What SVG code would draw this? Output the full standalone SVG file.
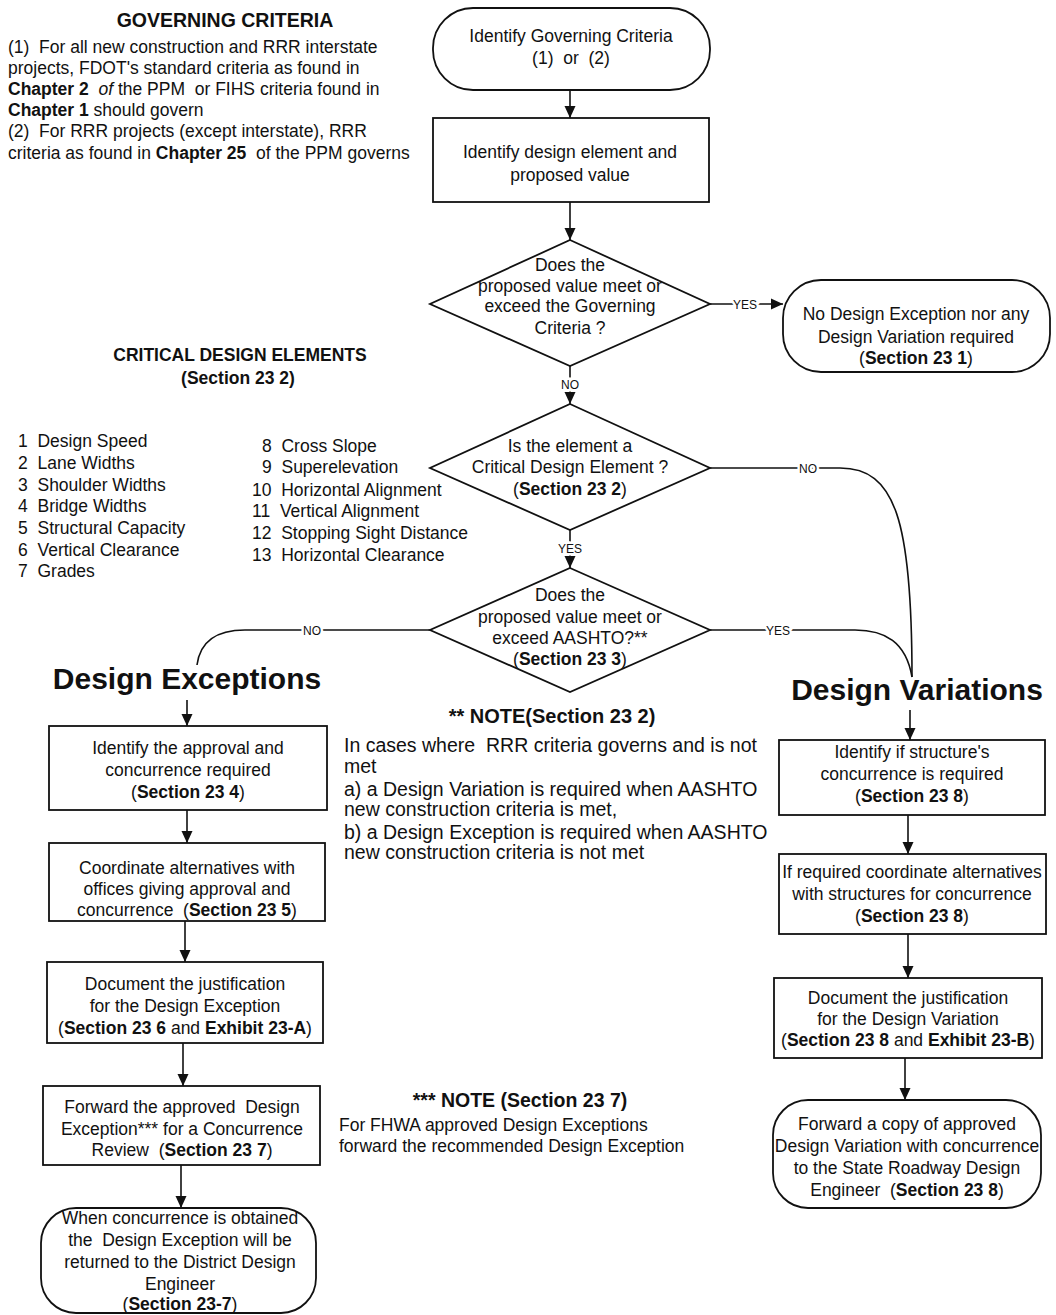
<svg xmlns="http://www.w3.org/2000/svg" width="1056" height="1315" viewBox="0 0 1056 1315">
<style>
text{font-family:"Liberation Sans",Arial,sans-serif;font-size:17.5px;fill:#111;white-space:pre}
.c{text-anchor:middle}
.b{font-weight:bold}
.i{font-style:italic}
.t19{font-size:19.5px}
.h{font-size:30px;font-weight:bold}
.lbl{font-size:12px;text-anchor:middle;stroke:#fff;stroke-width:5px;paint-order:stroke;fill:#111}
.box{fill:#fff;stroke:#111;stroke-width:1.8}
.ln{fill:none;stroke:#111;stroke-width:1.6}
</style>
<defs>
<marker id="ah" viewBox="0 0 12 12" refX="12" refY="6" markerWidth="12" markerHeight="12" markerUnits="userSpaceOnUse" orient="auto">
<path d="M0,0.5 L12,6 L0,11.5 z" fill="#111"/>
</marker>
</defs>
<rect width="1056" height="1315" fill="#fff"/>

<g id="governing-criteria">
<text class="c b t19" x="225" y="27">GOVERNING CRITERIA</text>
<text x="8" y="53">(1)  For all new construction and RRR interstate</text>
<text x="8" y="74">projects, FDOT's standard criteria as found in</text>
<text x="8" y="95"><tspan class="b">Chapter 2</tspan>  <tspan class="i">of</tspan> the PPM  or FIHS criteria found in</text>
<text x="8" y="116"><tspan class="b">Chapter 1</tspan> should govern</text>
<text x="8" y="137">(2)  For RRR projects (except interstate), RRR</text>
<text x="8" y="159">criteria as found in <tspan class="b">Chapter 25</tspan>  of the PPM governs</text>
</g>

<g id="critical-elements">
<text class="c b" x="240" y="361">CRITICAL DESIGN ELEMENTS</text>
<text class="c b" x="238" y="384">(Section 23 2)</text>
<text x="18" y="447">1  Design Speed</text>
<text x="18" y="469">2  Lane Widths</text>
<text x="18" y="491">3  Shoulder Widths</text>
<text x="18" y="512">4  Bridge Widths</text>
<text x="18" y="534">5  Structural Capacity</text>
<text x="18" y="556">6  Vertical Clearance</text>
<text x="18" y="577">7  Grades</text>
<text x="262" y="452">8  Cross Slope</text>
<text x="262" y="473">9  Superelevation</text>
<text x="252" y="496">10  Horizontal Alignment</text>
<text x="252" y="517">11  Vertical Alignment</text>
<text x="252" y="539">12  Stopping Sight Distance</text>
<text x="252" y="561">13  Horizontal Clearance</text>
</g>

<g id="connectors">
<line class="ln" x1="570" y1="90" x2="570" y2="118" marker-end="url(#ah)"/>
<line class="ln" x1="570" y1="202" x2="570" y2="240" marker-end="url(#ah)"/>
<line class="ln" x1="710" y1="304" x2="783" y2="304" marker-end="url(#ah)"/>
<text class="lbl" x="745" y="309">YES</text>
<line class="ln" x1="570" y1="366" x2="570" y2="404" marker-end="url(#ah)"/>
<text class="lbl" x="570" y="389">NO</text>
<path class="ln" d="M710,468 H840 C895,468 912,520 912,677"/>
<text class="lbl" x="808" y="473">NO</text>
<line class="ln" x1="570" y1="530" x2="570" y2="568" marker-end="url(#ah)"/>
<text class="lbl" x="570" y="553">YES</text>
<path class="ln" d="M710,630 H855 C885,630 906,642 912,677"/>
<text class="lbl" x="778" y="635">YES</text>
<path class="ln" d="M430,630 H245 C215,630 200,642 197,665"/>
<text class="lbl" x="312" y="635">NO</text>
<line class="ln" x1="187" y1="700" x2="187" y2="726" marker-end="url(#ah)"/>
<line class="ln" x1="187" y1="810" x2="187" y2="843" marker-end="url(#ah)"/>
<line class="ln" x1="185" y1="921" x2="185" y2="962" marker-end="url(#ah)"/>
<line class="ln" x1="183" y1="1043" x2="183" y2="1086" marker-end="url(#ah)"/>
<line class="ln" x1="181" y1="1165" x2="181" y2="1208" marker-end="url(#ah)"/>
<line class="ln" x1="910" y1="710" x2="910" y2="740" marker-end="url(#ah)"/>
<line class="ln" x1="908" y1="815" x2="908" y2="854" marker-end="url(#ah)"/>
<line class="ln" x1="908" y1="934" x2="908" y2="978" marker-end="url(#ah)"/>
<line class="ln" x1="905" y1="1058" x2="905" y2="1100" marker-end="url(#ah)"/>
</g>

<g id="n-identify-criteria">
<rect class="box" x="433" y="8" width="277" height="82" rx="40" ry="40"/>
<text class="c" x="571" y="42">Identify Governing Criteria</text>
<text class="c" x="571" y="64">(1)  or  (2)</text>
</g>

<g id="n-identify-element">
<rect class="box" x="433" y="118" width="276" height="84"/>
<text class="c" x="570" y="158">Identify design element and</text>
<text class="c" x="570" y="181">proposed value</text>
</g>

<g id="n-decision-governing">
<polygon class="box" points="570,240 710,304 570,366 430,304"/>
<text class="c" x="570" y="271">Does the</text>
<text class="c" x="570" y="292">proposed value meet or</text>
<text class="c" x="570" y="312">exceed the Governing</text>
<text class="c" x="570" y="334">Criteria ?</text>
</g>

<g id="n-no-exception">
<rect class="box" x="783" y="280" width="267" height="92" rx="38" ry="38"/>
<text class="c" x="916" y="320">No Design Exception nor any</text>
<text class="c" x="916" y="343">Design Variation required</text>
<text class="c" x="916" y="364">(<tspan class="b">Section 23 1</tspan>)</text>
</g>

<g id="n-decision-critical">
<polygon class="box" points="570,404 710,468 570,530 430,468"/>
<text class="c" x="570" y="452">Is the element a</text>
<text class="c" x="570" y="473">Critical Design Element ?</text>
<text class="c" x="570" y="495">(<tspan class="b">Section 23 2</tspan>)</text>
</g>

<g id="n-decision-aashto">
<polygon class="box" points="570,568 710,630 570,692 430,630"/>
<text class="c" x="570" y="601">Does the</text>
<text class="c" x="570" y="623">proposed value meet or</text>
<text class="c" x="570" y="644">exceed AASHTO?**</text>
<text class="c" x="570" y="665">(<tspan class="b">Section 23 3</tspan>)</text>
</g>

<g id="h-exceptions">
<text class="h c" x="187" y="689">Design Exceptions</text>
</g>
<g id="h-variations">
<text class="h c" x="917" y="700">Design Variations</text>
</g>

<g id="n-e1">
<rect class="box" x="49" y="726" width="278" height="84"/>
<text class="c" x="188" y="754">Identify the approval and</text>
<text class="c" x="188" y="776">concurrence required</text>
<text class="c" x="188" y="798">(<tspan class="b">Section 23 4</tspan>)</text>
</g>
<g id="n-e2">
<rect class="box" x="49" y="843" width="276" height="78"/>
<text class="c" x="187" y="874">Coordinate alternatives with</text>
<text class="c" x="187" y="895">offices giving approval and</text>
<text class="c" x="187" y="916">concurrence  (<tspan class="b">Section 23 5</tspan>)</text>
</g>
<g id="n-e3">
<rect class="box" x="47" y="962" width="276" height="81"/>
<text class="c" x="185" y="990">Document the justification</text>
<text class="c" x="185" y="1012">for the Design Exception</text>
<text class="c" x="185" y="1034">(<tspan class="b">Section 23 6</tspan> and <tspan class="b">Exhibit 23-A</tspan>)</text>
</g>
<g id="n-e4">
<rect class="box" x="43" y="1086" width="277" height="79"/>
<text class="c" x="182" y="1113">Forward the approved  Design</text>
<text class="c" x="182" y="1135">Exception*** for a Concurrence</text>
<text class="c" x="182" y="1156">Review  (<tspan class="b">Section 23 7</tspan>)</text>
</g>
<g id="n-e5">
<rect class="box" x="41" y="1208" width="275" height="105" rx="35" ry="35"/>
<text class="c" x="180" y="1224">When concurrence is obtained</text>
<text class="c" x="180" y="1246">the  Design Exception will be</text>
<text class="c" x="180" y="1268">returned to the District Design</text>
<text class="c" x="180" y="1290">Engineer</text>
<text class="c" x="180" y="1310">(<tspan class="b">Section 23-7</tspan>)</text>
</g>

<g id="n-v1">
<rect class="box" x="779" y="740" width="266" height="75"/>
<text class="c" x="912" y="758">Identify if structure's</text>
<text class="c" x="912" y="780">concurrence is required</text>
<text class="c" x="912" y="802">(<tspan class="b">Section 23 8</tspan>)</text>
</g>
<g id="n-v2">
<rect class="box" x="779" y="854" width="267" height="80"/>
<text class="c" x="912" y="878">If required coordinate alternatives</text>
<text class="c" x="912" y="900">with structures for concurrence</text>
<text class="c" x="912" y="922">(<tspan class="b">Section 23 8</tspan>)</text>
</g>
<g id="n-v3">
<rect class="box" x="774" y="978" width="268" height="80"/>
<text class="c" x="908" y="1004">Document the justification</text>
<text class="c" x="908" y="1025">for the Design Variation</text>
<text class="c" x="908" y="1046">(<tspan class="b">Section 23 8</tspan> and <tspan class="b">Exhibit 23-B</tspan>)</text>
</g>
<g id="n-v4">
<rect class="box" x="773" y="1100" width="268" height="108" rx="35" ry="35"/>
<text class="c" x="907" y="1130">Forward a copy of approved</text>
<text class="c" x="907" y="1152">Design Variation with concurrence</text>
<text class="c" x="907" y="1174">to the State Roadway Design</text>
<text class="c" x="907" y="1196">Engineer  (<tspan class="b">Section 23 8</tspan>)</text>
</g>

<g id="note-aashto">
<text class="c b" x="552" y="723" style="font-size:20px">** NOTE(Section 23 2)</text>
<text class="t19" x="344" y="752">In cases where  RRR criteria governs and is not</text>
<text class="t19" x="344" y="773">met</text>
<text class="t19" x="344" y="796">a) a Design Variation is required when AASHTO</text>
<text class="t19" x="344" y="816">new construction criteria is met,</text>
<text class="t19" x="344" y="839">b) a Design Exception is required when AASHTO</text>
<text class="t19" x="344" y="859">new construction criteria is not met</text>
</g>

<g id="note-fhwa">
<text class="c b t19" x="520" y="1107">*** NOTE (Section 23 7)</text>
<text x="339" y="1131">For FHWA approved Design Exceptions</text>
<text x="339" y="1152">forward the recommended Design Exception</text>
</g>
</svg>
